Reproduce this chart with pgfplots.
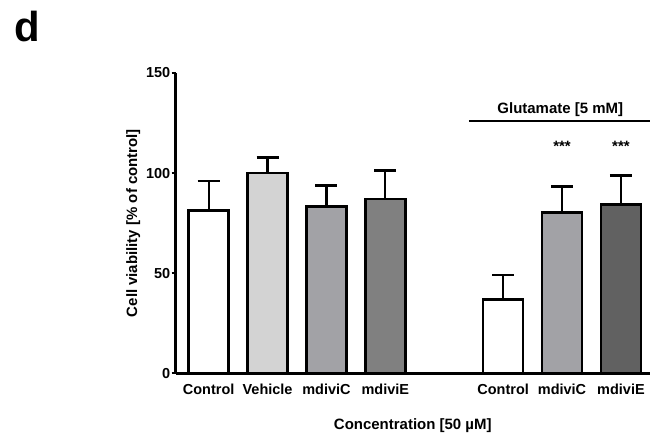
\documentclass[border=0pt]{standalone}
\usepackage{pgfplots}
\pgfplotsset{compat=1.18}
\usepackage{fontspec}
\setmainfont{Liberation Sans}
\definecolor{vehgray}{HTML}{D3D3D3}
\definecolor{cgray}{HTML}{A2A2A6}
\definecolor{egray}{HTML}{808080}
\definecolor{edark}{HTML}{616161}

\begin{document}
\begin{tikzpicture}
\begin{axis}[
    scale only axis,
    width=475pt,
    height=301pt,
    xmin=-0.56, xmax=7.49,
    ymin=0, ymax=150,
    axis x line=bottom,
    axis y line=left,
    axis line style={line width=2.4pt, -},
    ytick={0,50,100,150},
    xtick={0,1,2,3,5,6,7},
    xticklabels={Control,Vehicle,mdiviC,mdiviE,Control,mdiviC,mdiviE},
    x tick style={draw=none},
    y tick style={line width=2pt, black},
    tick align=outside,
    major tick length=4pt,
    tick label style={font=\bfseries\fontsize{14.5}{16}\selectfont},
    yticklabel style={xshift=2pt},
    xticklabel style={yshift=-3pt},
    /pgf/number format/assume math mode=true,
    ylabel={Cell viability [\% of control]},
    xlabel={Concentration [50 µM]},
    label style={font=\bfseries\fontsize{15}{17}\selectfont},
    ylabel style={at={(axis description cs:0,0.5)}, anchor=south, yshift=32pt},
    xlabel style={yshift=-17pt},
    ybar,
    bar width=0.68,
    bar shift=0pt,
    clip=false,
    every axis plot/.append style={draw=black, line width=2.6pt},
    error bars/y dir=plus,
    error bars/y explicit,
    error bars/error mark=-,
    error bars/error mark options={rotate=90, mark size=11pt, line width=2.6pt, black},
    error bars/error bar style={line width=2.2pt, black},
]
\addplot[fill=white] coordinates {(0,81.4) +- (0,14.6)};
\addplot[fill=vehgray] coordinates {(1,100) +- (0,7.8)};
\addplot[fill=cgray] coordinates {(2,83.4) +- (0,10.3)};
\addplot[fill=egray] coordinates {(3,87.0) +- (0,14.3)};
\addplot[fill=white] coordinates {(5,36.9) +- (0,12.1)};
\addplot[fill=cgray] coordinates {(6,80.4) +- (0,12.8)};
\addplot[fill=edark] coordinates {(7,84.2) +- (0,14.5)};

\draw[line width=2pt] (axis cs:4.42,126) -- (axis cs:7.49,126);
\node[font=\bfseries\fontsize{15}{17}\selectfont] at (axis cs:5.97,131.5) {Glutamate [5 mM]};
\node[font=\bfseries\fontsize{15}{17}\selectfont] at (axis cs:6,113.5) {***};
\node[font=\bfseries\fontsize{15}{17}\selectfont] at (axis cs:7,113.5) {***};

\coordinate (o) at (rel axis cs:0,0);
\end{axis}
\path ([shift={(-176pt,-63pt)}]o) rectangle ([shift={(475pt,374pt)}]o);
\node[font=\bfseries\fontsize{42}{42}\selectfont, anchor=base west] at ([shift={(-165pt,332pt)}]o) {d};
\end{tikzpicture}
\end{document}
